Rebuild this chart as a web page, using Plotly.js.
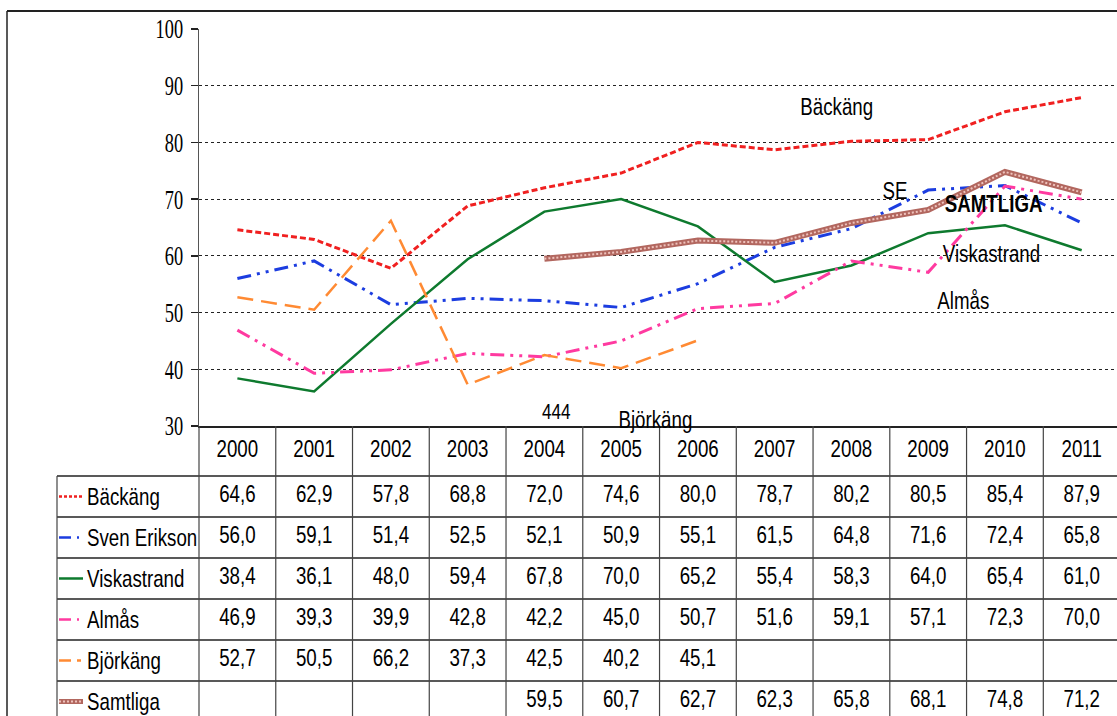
<!DOCTYPE html>
<html>
<head>
<meta charset="utf-8">
<script src="https://cdn.plot.ly/plotly-3.0.1.min.js"></script>
<style>html,body{margin:0;padding:0;overflow:hidden;background:#fff}#chart{width:1117px;height:716px}</style>
</head>
<body>
<div id="chart"></div>
<script>
// ---- data ----
const years = ['2000','2001','2002','2003','2004','2005','2006','2007','2008','2009','2010','2011'];
const backang = [64.6,62.9,57.8,68.8,72.0,74.6,80.0,78.7,80.2,80.5,85.4,87.9];
const svenErikson = [56.0,59.1,51.4,52.5,52.1,50.9,55.1,61.5,64.8,71.6,72.4,65.8];
const viskastrand = [38.4,36.1,48.0,59.4,67.8,70.0,65.2,55.4,58.3,64.0,65.4,61.0];
const almas = [46.9,39.3,39.9,42.8,42.2,45.0,50.7,51.6,59.1,57.1,72.3,70.0];
const bjorkang = [52.7,50.5,66.2,37.3,42.5,40.2,45.1,null,null,null,null,null];
const samtliga = [null,null,null,null,59.5,60.7,62.7,62.3,65.8,68.1,74.8,71.2];
const seriesNames = ['Bäckäng','Sven Erikson','Viskastrand','Almås','Björkäng','Samtliga'];
const yTicks = [30,40,50,60,70,80,90,100];

const seriesData = [backang, svenErikson, viskastrand, almas, bjorkang, samtliga];
const colors = ['#f02020','#1c3de0','#0e7a2e','#ff3aa0','#ff8a33','#b2675f'];
const dashes = ['6px,3px','14px,6px,3px,6px,3px,6px','solid','14px,6px,3px,6px,3px,6px','16px,8px','solid'];
const widths = [3,3,2.5,3,2.5,6];

const SANS = '"Liberation Sans",Arial,sans-serif';
const FS = 24;
const traces = [];
seriesData.forEach((d,i)=>{
  traces.push({x:years,y:d,type:'scatter',mode:'lines',xaxis:'x',yaxis:'y',
    line:{color:colors[i],width:widths[i],dash:dashes[i]},connectgaps:false,hoverinfo:'skip',showlegend:false});
});
// hatch overlay for Samtliga
traces.push({x:years,y:samtliga,type:'scatter',mode:'lines',xaxis:'x',yaxis:'y',
  line:{color:'#eec2bc',width:2,dash:'2px,2px'},hoverinfo:'skip',showlegend:false});

// table: years header
traces.push({x:years,y:years.map(()=>-1.11),type:'scatter',mode:'text',xaxis:'x',yaxis:'y2',
  text:years,textposition:'middle center',textfont:{family:SANS,size:FS,color:'#000'},cliponaxis:false,hoverinfo:'skip',showlegend:false});
// table values
seriesData.forEach((d,i)=>{
  const xs=[],ys=[],ts=[];
  d.forEach((v,j)=>{ if(v!==null){xs.push(years[j]);ys.push(i);ts.push(v.toFixed(1).replace('.',','));} });
  traces.push({x:xs,y:ys,type:'scatter',mode:'text',xaxis:'x',yaxis:'y2',text:ts,textposition:'middle center',
    textfont:{family:SANS,size:FS,color:'#000'},cliponaxis:false,hoverinfo:'skip',showlegend:false});
});

// geometry helpers
const L=199, W=918, T=29, H=716, PH=H-T;
const px2paperX = px => (px-L)/W;
const px2paperY = py => (H-py)/PH;
const y2Top = -1.7195, y2Bot = 5.354;

const shapes = [];
// frame
shapes.push({type:'line',xref:'paper',yref:'paper',x0:px2paperX(7),x1:px2paperX(1117),y0:px2paperY(11),y1:px2paperY(11),line:{color:'#222',width:2}});
shapes.push({type:'line',xref:'paper',yref:'paper',x0:px2paperX(7),x1:px2paperX(7),y0:px2paperY(11),y1:px2paperY(716),line:{color:'#222',width:1.5}});
// table horizontal lines
for(let r=0;r<seriesNames.length;r++){
  shapes.push({type:'line',xref:'paper',yref:'y2',x0:px2paperX(57),x1:1.01,y0:r-0.5,y1:r-0.5,line:{color:'#222',width:1.5}});
}
// table vertical lines
for(let c=1;c<years.length;c++){
  shapes.push({type:'line',xref:'x',yref:'y2',x0:c-0.5,x1:c-0.5,y0:y2Top,y1:y2Bot,line:{color:'#444',width:1.2}});
}
shapes.push({type:'line',xref:'paper',yref:'y2',x0:0,x1:0,y0:y2Top,y1:y2Bot,line:{color:'#444',width:1.2}});
shapes.push({type:'line',xref:'paper',yref:'y2',x0:px2paperX(57),x1:px2paperX(57),y0:-0.5,y1:y2Bot,line:{color:'#444',width:1.2}});
// legend samples
const legDash = ['3px,2px','12px,6px,2px,30px','solid','12px,6px,2px,30px','12px,6px,4px,30px','solid'];
seriesNames.forEach((n,i)=>{
  shapes.push({type:'line',xref:'paper',yref:'y2',x0:px2paperX(59),x1:px2paperX(83),y0:i,y1:i,
    line:{color:colors[i],width:i===5?5:2.5,dash:legDash[i]}});
  if(i===5){
    shapes.push({type:'line',xref:'paper',yref:'y2',x0:px2paperX(59),x1:px2paperX(83),y0:i,y1:i,
      line:{color:'#eec2bc',width:2,dash:'2px,2px'}});
  }
});

const annotations = [];
seriesNames.forEach((n,i)=>{
  annotations.push({xref:'paper',yref:'y2',x:px2paperX(85),y:i,text:n,xanchor:'left',align:'left',yanchor:'middle',showarrow:false,
    font:{family:SANS,size:FS,color:'#000'}});
});
const labels = [
  {x:7.80,y:86.25,text:'Bäckäng'},
  {x:8.57,y:71.6,text:'SE'},
  {x:9.857,y:69.3,text:'<b>SAMTLIGA</b>'},
  {x:9.83,y:60.5,text:'Viskastrand'},
  {x:9.466,y:52.2,text:'Almås'},
  {x:4.164,y:32.6,text:'444',size:22},
  {x:5.447,y:31.2,text:'Björkäng'}
];
labels.forEach(a=>annotations.push({xref:'x',yref:'y',x:a.x,y:a.y,text:a.text,showarrow:false,xanchor:'center',yanchor:'middle',
  font:{family:SANS,size:a.size||FS,color:'#000'}}));

const layout = {
  width:1117,height:716,
  margin:{l:L,r:0,t:T,b:0,pad:0},
  paper_bgcolor:'#fff',plot_bgcolor:'#fff',
  showlegend:false,
  xaxis:{type:'category',range:[-0.5,11.46],showgrid:false,showticklabels:false,ticks:'',zeroline:false,
    showline:true,linecolor:'#222',linewidth:2,anchor:'y',fixedrange:true},
  yaxis:{domain:[px2paperY(426),1],range:[30,100],tickvals:yTicks,ticks:'outside',ticklen:7,tickcolor:'#222',tickwidth:1.5,
    showline:true,linecolor:'#555',linewidth:1.5,showgrid:true,gridcolor:'#222',griddash:'dot',gridwidth:1,zeroline:false,
    ticklabelstandoff:2,
    tickfont:{family:'"Liberation Serif","Times New Roman",serif',size:27,color:'#000'},anchor:'x',fixedrange:true},
  yaxis2:{domain:[0,px2paperY(426)],range:[y2Bot,y2Top],visible:false,anchor:'x',fixedrange:true},
  shapes:shapes,
  annotations:annotations
};

// condense text horizontally (the original uses narrow fonts)
function condense(sel, s){
  document.querySelectorAll(sel).forEach(el=>{
    const bb = el.getBBox();
    const anchor = el.getAttribute('text-anchor') || getComputedStyle(el).textAnchor || 'start';
    let ax = bb.x;
    if(anchor==='middle') ax = bb.x + bb.width/2;
    else if(anchor==='end') ax = bb.x + bb.width;
    const ex = el.getAttribute('transform') || '';
    el.setAttribute('transform', (ex+' translate('+ax+',0) scale('+s+',1) translate('+(-ax)+',0)').trim());
  });
}
Plotly.newPlot('chart',traces,layout,{displayModeBar:false,staticPlot:true}).then(()=>{
  condense('.annotation-text', 0.78);
  condense('.textpoint text', 0.78);
  condense('.ytick text', 0.68);
});
</script>
</body>
</html>
